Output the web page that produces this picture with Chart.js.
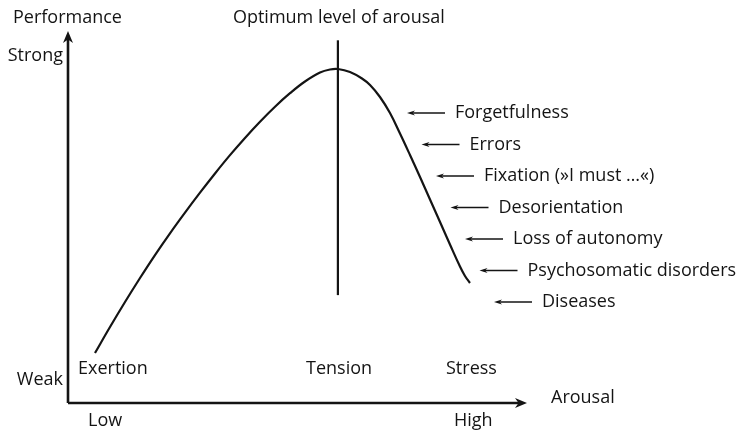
<!DOCTYPE html>
<html>
<head>
<meta charset="utf-8">
<script src="https://cdn.jsdelivr.net/npm/chart.js@4.4.0/dist/chart.umd.min.js"></script>
<style>
  html, body { margin: 0; padding: 0; background: #fff; }
  canvas { display: block; }
</style>
</head>
<body>
<canvas id="chart" width="739" height="432"></canvas>
<script>
// arousal (0 = low, 100 = high) vs performance (0 = weak, 100 = strong)
const arousal = [5.88, 9.15, 12.42, 15.69, 18.95, 22.22, 25.49, 28.76, 32.03, 35.29, 38.56, 41.83,
                 45.10, 48.37, 51.63, 54.90, 57.08, 58.82, 61.44, 64.05, 65.80, 67.97, 70.15, 72.33,
                 74.51, 76.69, 78.87, 81.05, 83.22, 85.40, 86.49, 87.58];
const performance = [13.44, 20.42, 27.15, 33.60, 39.77, 45.62, 51.18, 56.54, 61.71, 66.63, 71.26, 75.62,
                     79.65, 83.28, 86.42, 88.84, 89.65, 89.78, 88.98, 87.23, 85.48, 82.26, 77.96, 72.45,
                     66.67, 60.75, 54.70, 48.66, 42.61, 36.69, 34.14, 32.26];

// optimum marker
const optimumX = [58.8, 58.8];
const optimumY = [29.0, 97.5];

// labels
const stageLabels = ['Exertion', 'Tension', 'Stress'];
const symptomLabels = ['Forgetfulness', 'Errors', 'Fixation (»I must …«)', 'Desorientation',
                       'Loss of autonomy', 'Psychosomatic disorders', 'Diseases'];
const yTickLabels = ['Weak', 'Strong'];
const xTickLabels = ['Low', 'High'];

const INK = '#141414';
const FONT = '"Open Sans", sans-serif';

function arrowHead(ctx, x, y, dir, len, half) {
    // dir: 'up' | 'right' | 'left'
    ctx.beginPath();
    if (dir === 'up') {
        ctx.moveTo(x, y);
        ctx.lineTo(x - half, y + len);
        ctx.lineTo(x, y + len * 0.7);
        ctx.lineTo(x + half, y + len);
    } else if (dir === 'right') {
        ctx.moveTo(x, y);
        ctx.lineTo(x - len, y - half);
        ctx.lineTo(x - len * 0.7, y);
        ctx.lineTo(x - len, y + half);
    } else {
        ctx.moveTo(x, y);
        ctx.lineTo(x + len, y - half);
        ctx.lineTo(x + len * 0.7, y);
        ctx.lineTo(x + len, y + half);
    }
    ctx.closePath();
    ctx.fill();
}

const decorations = {
    id: 'decorations',
    afterDraw(chart) {
        const { ctx, chartArea: a } = chart;
        ctx.save();
        ctx.strokeStyle = INK;
        ctx.fillStyle = INK;

        // axes with arrows
        ctx.lineWidth = 2.6;
        ctx.beginPath();
        ctx.moveTo(a.left, a.bottom);
        ctx.lineTo(a.left, a.top + 6);
        ctx.moveTo(a.left, a.bottom);
        ctx.lineTo(a.right - 6, a.bottom);
        ctx.stroke();
        arrowHead(ctx, a.left, a.top, 'up', 12, 5);
        arrowHead(ctx, a.right, a.bottom, 'right', 12, 5);

        ctx.font = '18px ' + FONT;
        ctx.textBaseline = 'middle';

        // axis titles and ends
        ctx.textAlign = 'left';
        ctx.fillText('Performance', 13, 18);
        ctx.fillText('Arousal', a.right + 24, a.bottom - 5);
        ctx.textAlign = 'center';
        const xOpt = chart.scales.x.getPixelForValue(optimumX[0]);
        ctx.fillText('Optimum level of arousal', xOpt + 1, 18);
        ctx.textAlign = 'right';
        ctx.fillText(yTickLabels[1], a.left - 5, 56);
        ctx.fillText(yTickLabels[0], a.left - 5, 380);
        ctx.textAlign = 'left';
        ctx.fillText(xTickLabels[0], 88, 421);
        ctx.fillText(xTickLabels[1], 454, 421);

        // stages along the bottom
        const stageX = [78, 306, 446];
        stageLabels.forEach((s, i) => ctx.fillText(s, stageX[i], 369));

        // symptoms with small arrows toward the falling side of the curve
        ctx.lineWidth = 1.3;
        symptomLabels.forEach((s, i) => {
            const y = 113 + i * 31.5;
            const tip = 407 + i * 14.5;
            ctx.beginPath();
            ctx.moveTo(tip + 4, y);
            ctx.lineTo(tip + 38, y);
            ctx.stroke();
            arrowHead(ctx, tip, y, 'left', 8, 2.6);
            ctx.fillText(s, tip + 48, y);
        });
        ctx.restore();
    }
};

new Chart(document.getElementById('chart'), {
    type: 'scatter',
    data: {
        datasets: [
            {
                data: arousal.map((x, i) => ({ x, y: performance[i] })),
                showLine: true,
                borderColor: INK,
                borderWidth: 2.2,
                pointRadius: 0,
                tension: 0.4,
                clip: false
            },
            {
                data: optimumX.map((x, i) => ({ x, y: optimumY[i] })),
                showLine: true,
                borderColor: INK,
                borderWidth: 2.2,
                pointRadius: 0,
                clip: false
            }
        ]
    },
    plugins: [decorations],
    options: {
        responsive: false,
        animation: false,
        layout: { padding: { left: 68, top: 31, right: 212, bottom: 29 } },
        plugins: { legend: { display: false }, tooltip: { enabled: false } },
        scales: {
            x: { display: false, min: 0, max: 100 },
            y: { display: false, min: 0, max: 100 }
        }
    }
});
</script>
</body>
</html>
